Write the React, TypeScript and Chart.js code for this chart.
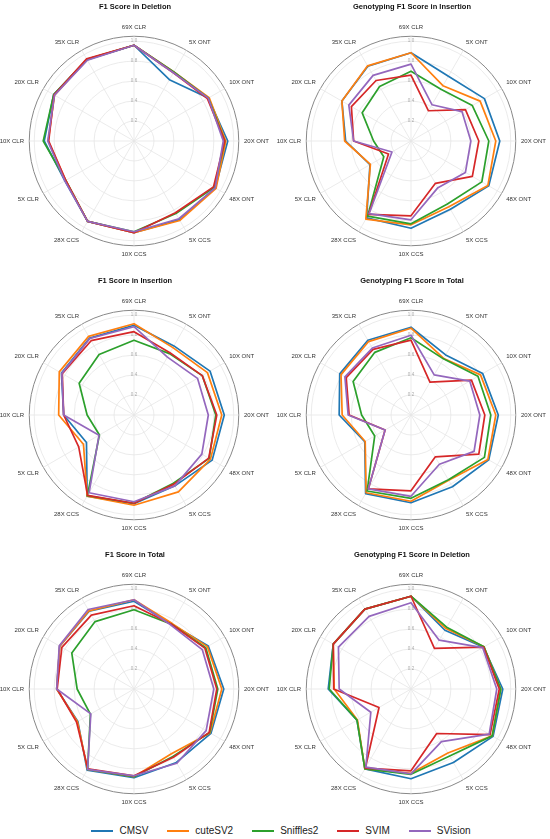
import { useEffect, useRef } from "react";
import { Chart, registerables } from "chart.js";

Chart.register(...registerables);

const FONT = "'Liberation Sans', Arial, sans-serif";

// spokes, clockwise from the top
const categories = [
  "69X CLR", "5X ONT", "10X ONT", "20X ONT", "48X ONT", "5X CCS",
  "10X CCS", "28X CCS", "5X CLR", "10X CLR", "20X CLR", "35X CLR",
];

const tools = ["CMSV", "cuteSV2", "Sniffles2", "SVIM", "SVision"];
const toolColors = ["#1f77b4", "#ff7f0e", "#2ca02c", "#d62728", "#9467bd"];

const tickValues = [0, 0.2, 0.4, 0.6, 0.8, 1.0, 1.05];

// F1 Score in Deletion
const delCMSV = [0.96, 0.71, 0.86, 0.94, 0.94, 0.91, 0.92, 0.93, 0.8, 0.9, 0.93, 0.94];
const delCuteSV2 = [0.96, 0.8, 0.87, 0.92, 0.95, 0.92, 0.92, 0.93, 0.79, 0.86, 0.92, 0.945];
const delSniffles2 = [0.96, 0.8, 0.86, 0.91, 0.93, 0.84, 0.91, 0.93, 0.79, 0.91, 0.93, 0.945];
const delSVIM = [0.96, 0.79, 0.85, 0.91, 0.92, 0.83, 0.92, 0.93, 0.79, 0.855, 0.925, 0.95];
const delSVision = [0.96, 0.79, 0.86, 0.895, 0.94, 0.9, 0.91, 0.93, 0.8, 0.865, 0.92, 0.935];

// Genotyping F1 Score in Insertion
const gtInsCMSV = [0.885, 0.75, 0.85, 0.89, 0.9, 0.79, 0.875, 0.89, 0.475, 0.655, 0.8, 0.865];
const gtInsCuteSV2 = [0.885, 0.64, 0.8, 0.85, 0.89, 0.76, 0.84, 0.905, 0.47, 0.665, 0.8, 0.87];
const gtInsSniffles2 = [0.7, 0.6, 0.71, 0.78, 0.82, 0.73, 0.83, 0.87, 0.315, 0.375, 0.565, 0.63];
const gtInsSVIM = [0.66, 0.35, 0.63, 0.68, 0.71, 0.49, 0.75, 0.85, 0.26, 0.575, 0.69, 0.7];
const gtInsSVision = [0.77, 0.42, 0.59, 0.6, 0.63, 0.54, 0.79, 0.84, 0.22, 0.575, 0.72, 0.76];

// F1 Score in Insertion
const insCMSV = [0.9, 0.8, 0.88, 0.905, 0.905, 0.82, 0.89, 0.94, 0.55, 0.705, 0.84, 0.89];
const insCuteSV2 = [0.915, 0.78, 0.85, 0.88, 0.885, 0.89, 0.905, 0.94, 0.585, 0.755, 0.865, 0.91];
const insSniffles2 = [0.75, 0.71, 0.79, 0.82, 0.87, 0.79, 0.885, 0.935, 0.4, 0.47, 0.635, 0.7];
const insSVIM = [0.835, 0.72, 0.79, 0.83, 0.865, 0.8, 0.885, 0.93, 0.64, 0.705, 0.83, 0.86];
const insSVision = [0.885, 0.67, 0.735, 0.745, 0.785, 0.82, 0.87, 0.9, 0.405, 0.705, 0.835, 0.885];

// Genotyping F1 Score in Total
const gtTotCMSV = [0.88, 0.695, 0.83, 0.875, 0.9, 0.83, 0.88, 0.91, 0.535, 0.72, 0.825, 0.865];
const gtTotCuteSV2 = [0.87, 0.655, 0.805, 0.85, 0.89, 0.755, 0.865, 0.9, 0.53, 0.69, 0.81, 0.85];
const gtTotSniffles2 = [0.775, 0.65, 0.775, 0.8, 0.85, 0.75, 0.835, 0.88, 0.42, 0.495, 0.67, 0.725];
const gtTotSVIM = [0.75, 0.38, 0.7, 0.74, 0.785, 0.485, 0.76, 0.855, 0.3, 0.62, 0.75, 0.76];
const gtTotSVision = [0.8, 0.465, 0.68, 0.69, 0.73, 0.57, 0.815, 0.855, 0.3, 0.63, 0.765, 0.775];

// F1 Score in Total
const totCMSV = [0.88, 0.75, 0.86, 0.9, 0.89, 0.85, 0.89, 0.94, 0.65, 0.775, 0.86, 0.9];
const totCuteSV2 = [0.895, 0.76, 0.85, 0.88, 0.88, 0.75, 0.88, 0.93, 0.655, 0.775, 0.86, 0.905];
const totSniffles2 = [0.795, 0.75, 0.83, 0.84, 0.875, 0.78, 0.88, 0.93, 0.505, 0.57, 0.72, 0.78];
const totSVIM = [0.835, 0.75, 0.82, 0.83, 0.87, 0.79, 0.87, 0.925, 0.665, 0.77, 0.835, 0.855];
const totSVision = [0.895, 0.74, 0.79, 0.8, 0.835, 0.86, 0.87, 0.93, 0.5, 0.775, 0.865, 0.92];

// Genotyping F1 Score in Deletion
const gtDelCMSV = [0.93, 0.68, 0.84, 0.92, 0.95, 0.85, 0.9, 0.925, 0.625, 0.83, 0.9, 0.925];
const gtDelCuteSV2 = [0.93, 0.7, 0.845, 0.9, 0.94, 0.74, 0.845, 0.925, 0.62, 0.77, 0.9, 0.925];
const gtDelSniffles2 = [0.93, 0.715, 0.845, 0.9, 0.94, 0.775, 0.855, 0.925, 0.625, 0.82, 0.9, 0.925];
const gtDelSVIM = [0.93, 0.47, 0.84, 0.885, 0.915, 0.515, 0.82, 0.915, 0.37, 0.775, 0.9, 0.925];
const gtDelSVision = [0.865, 0.565, 0.83, 0.86, 0.905, 0.61, 0.85, 0.905, 0.465, 0.72, 0.84, 0.84];

const panels = [
  { title: "F1 Score in Deletion", series: [delCMSV, delCuteSV2, delSniffles2, delSVIM, delSVision], left: 0, top: 0 },
  { title: "Genotyping F1 Score in Insertion", series: [gtInsCMSV, gtInsCuteSV2, gtInsSniffles2, gtInsSVIM, gtInsSVision], left: 277, top: 0 },
  { title: "F1 Score in Insertion", series: [insCMSV, insCuteSV2, insSniffles2, insSVIM, insSVision], left: 0, top: 274 },
  { title: "Genotyping F1 Score in Total", series: [gtTotCMSV, gtTotCuteSV2, gtTotSniffles2, gtTotSVIM, gtTotSVision], left: 277, top: 274 },
  { title: "F1 Score in Total", series: [totCMSV, totCuteSV2, totSniffles2, totSVIM, totSVision], left: 0, top: 548 },
  { title: "Genotyping F1 Score in Deletion", series: [gtDelCMSV, gtDelCuteSV2, gtDelSniffles2, gtDelSVIM, gtDelSVision], left: 277, top: 548 },
];

const RadarPanel = ({ title, series, left, top }: { title: string; series: number[][]; left: number; top: number }) => {
  const canvasRef = useRef<HTMLCanvasElement>(null);

  useEffect(() => {
    if (!canvasRef.current) return;
    const chart = new Chart(canvasRef.current, {
      type: "radar",
      data: {
        labels: categories,
        datasets: series.map((values, i) => ({
          label: tools[i],
          data: values,
          borderColor: toolColors[i],
          backgroundColor: toolColors[i],
          borderWidth: 1.7,
          borderJoinStyle: "round",
          pointRadius: 0,
          fill: false,
          tension: 0,
          order: tools.length - i,
        })),
      },
      options: {
        responsive: false,
        animation: false,
        layout: { padding: { bottom: 3 } },
        plugins: {
          legend: { display: false },
          tooltip: { enabled: false },
          title: {
            display: true,
            text: title,
            color: "#111",
            font: { family: FONT, size: 7.5, weight: "bold" },
            padding: { top: 2, bottom: 0 },
          },
        },
        scales: {
          r: {
            min: 0,
            max: 1.05,
            afterBuildTicks: (scale: any) => {
              scale.ticks = tickValues.map((v) => ({ value: v }));
            },
            grid: {
              circular: true,
              color: (ctx: any) => (ctx.index === tickValues.length - 1 ? "#888" : "#e6e6e6"),
              lineWidth: (ctx: any) => (ctx.index === tickValues.length - 1 ? 1 : 0.8),
            },
            angleLines: { color: "#e6e6e6", lineWidth: 0.8 },
            pointLabels: {
              color: "#333",
              padding: 3,
              font: { family: FONT, size: 6 },
            },
            ticks: {
              color: "#aaa",
              showLabelBackdrop: false,
              backdropPadding: 0,
              font: { family: FONT, size: 4.5 },
              callback: (v: any) => (v > 1.0001 ? "" : Number(v).toFixed(1)),
            },
          },
        },
      },
    });
    return () => chart.destroy();
  }, [title, series]);

  return (
    <canvas
      ref={canvasRef}
      width={270}
      height={274}
      style={{ position: "absolute", left, top, width: 270, height: 274 }}
    />
  );
};

export default function App() {
  return (
    <div style={{ position: "absolute", left: 0, top: 0, width: 550, height: 839, background: "#fff", overflow: "hidden" }}>
      {panels.map((p) => (
        <RadarPanel key={p.title} {...p} />
      ))}
      <div
        style={{
          position: "absolute",
          left: 6,
          top: 824,
          width: 550,
          display: "flex",
          justifyContent: "center",
          alignItems: "center",
          fontFamily: FONT,
          fontSize: 10,
          lineHeight: "14px",
          color: "#222",
        }}
      >
        {tools.map((t, i) => (
          <div key={t} style={{ display: "flex", alignItems: "center", marginRight: i < tools.length - 1 ? 19 : 0 }}>
            <span style={{ display: "inline-block", width: 22, height: 2, background: toolColors[i], marginRight: 6 }} />
            <span>{t}</span>
          </div>
        ))}
      </div>
    </div>
  );
}
